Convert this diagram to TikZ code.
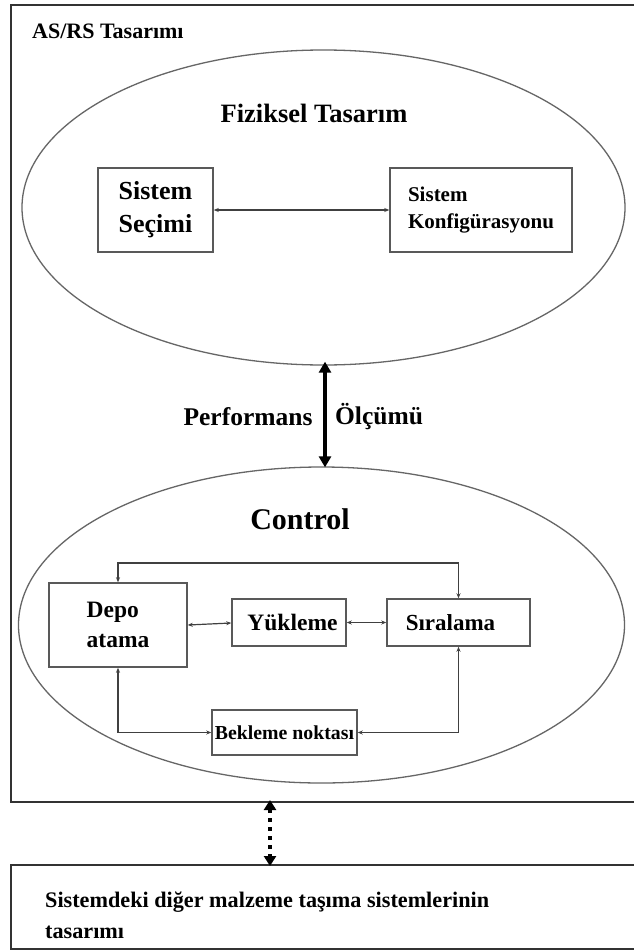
\documentclass[tikz,border=0pt]{standalone}
\usepackage{fontspec}
\setmainfont{Liberation Serif}
\usetikzlibrary{shapes.geometric,arrows.meta}

\newcommand{\fs}[1]{\fontsize{#1}{#1}\selectfont\bfseries}

\begin{document}
\begin{tikzpicture}[x=1pt,y=-1pt,
  frame/.style={draw=black!80,line width=2pt,rectangle,inner sep=0pt},
  oval/.style={draw=black!60,line width=1.3pt,ellipse,inner sep=0pt},
  box/.style={draw=black!65,line width=1.5pt,rectangle,inner sep=0pt},
  label/.style={inner sep=0pt,text=black},
  thin arrow/.style={draw=black!75,line width=1.2pt,{Stealth[length=5pt,width=4pt]}-{Stealth[length=5pt,width=4pt]}},
  perf arrow/.style={draw=black,line width=3.5pt,{Triangle[length=11pt,width=12pt]}-{Triangle[length=11pt,width=12pt]}},
  link arrow/.style={draw=black,line width=3.5pt,dash pattern=on 4pt off 5pt,{Triangle[length=10pt,width=12pt]}-{Triangle[length=10pt,width=12pt]}}
]
\useasboundingbox (0,0) rectangle (633,950);
\fill[white] (0,0) rectangle (633,950);

% outer frame and the box below it
\node[frame,minimum width=636pt,minimum height=797pt] (outer) at (329,403.5) {};
\node[frame,minimum width=636pt,minimum height=84pt] (other) at (329,907) {};

\node[label,anchor=base west] (asrs) at (32,39) {\fs{22}AS/RS Tasarımı};

% physical design
\node[oval,minimum width=603pt,minimum height=315pt] (phys) at (323.5,207.5) {};
\node[label] (physT) at (314,113) {\fs{26.5}Fiziksel Tasarım};
\node[box,minimum width=115pt,minimum height=84pt,align=left,
  font=\fontsize{26}{33}\selectfont\bfseries] (secim) at (155.5,210) {Sistem\\Seçimi};
\node[box,minimum width=182pt,minimum height=84pt,align=left,
  font=\fontsize{21}{27}\selectfont\bfseries] (konf) at (481,210) {Sistem\\Konfigürasyonu};
\draw[thin arrow] (secim.east) -- (konf.west);

% performance measurement link
\node[oval,minimum width=606pt,minimum height=316pt] (ctrl) at (321.5,625) {};
\draw[perf arrow] ([yshift=4pt]phys.south -| 325,0) -- ([yshift=-1pt]ctrl.north -| 325,0);
\node[label] (perfL) at (248,417) {\fs{25.5}Performans};
\node[label] (perfR) at (379,417) {\fs{25.5}Ölçümü};

% control
\node[label] (ctrlT) at (300,519) {\fs{30}Control};
\node[box,minimum width=138pt,minimum height=84pt,align=left,
  font=\fontsize{23.5}{30}\selectfont\bfseries] (depo) at (118,625) {Depo\\atama};
\node[box,minimum width=114pt,minimum height=47pt] (yuk) at (289,622.5)
  {\hspace*{7pt}\fs{23.5}Yükleme};
\node[box,minimum width=143pt,minimum height=47pt] (sira) at (458.5,622.5)
  {\fs{23}Sıralama\hspace*{16pt}};
\node[box,minimum width=145pt,minimum height=45pt] (bek) at (284.5,732.5)
  {\fs{19.8}Bekleme noktası};
\coordinate (loopT) at (0,563);

\draw[thin arrow] (depo.east |- 0,625) -- (yuk.west |- 0,623);
\draw[thin arrow] (yuk.east) -- (sira.west);
\draw[thin arrow] (depo.north) -- (depo.north |- loopT) -| (sira.north);
\draw[thin arrow] (depo.south) |- (bek.west);
\draw[thin arrow] (sira.south) |- (bek.east);

% link to the other handling systems
\coordinate (lx) at (270,0);
\draw[link arrow] ([yshift=3pt]outer.south -| lx) -- ([yshift=-2pt]other.north -| lx);
\node[label,anchor=base west] (otherA) at (45,907) {\fs{22.2}Sistemdeki diğer malzeme taşıma sistemlerinin};
\node[label,anchor=base west] (otherB) at (45,938) {\fs{22.2}tasarımı};
\end{tikzpicture}
\end{document}
